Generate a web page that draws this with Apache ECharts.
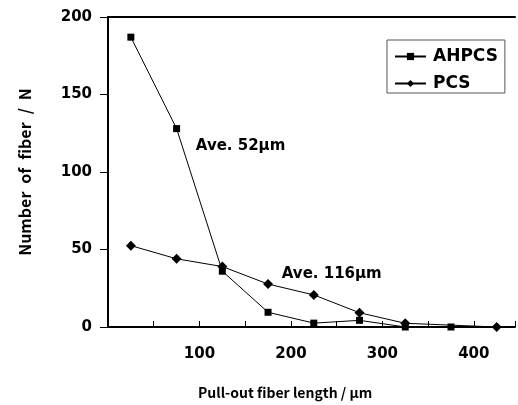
<!DOCTYPE html>
<html>
<head>
<meta charset="utf-8">
<script src="https://cdn.jsdelivr.net/npm/echarts@6/dist/echarts.min.js"></script>
<style>
html, body { margin: 0; padding: 0; background: #fff; }
#chart { width: 518px; height: 405px; }
</style>
</head>
<body>
<div id="chart"></div>
<script>
// Pull-out fiber length bins (µm, bin centres) and fiber counts
const lengthsAHPCS = [25, 75, 125, 175, 225, 275, 325, 375];
const countsAHPCS = [187, 128, 36, 9.5, 2.5, 4.3, 0, 0];
const lengthsPCS = [25, 75, 125, 175, 225, 275, 325, 425];
const countsPCS = [52.5, 44, 39, 27.7, 20.7, 9.2, 2.4, 0];

const seriesNames = ['AHPCS', 'PCS'];
const yTicks = [0, 50, 100, 150, 200];
const xLabelTicks = [100, 200, 300, 400];
const xRange = [0, 445];

// Average pull-out length notes, placed in data space
const notes = [
  { text: 'Ave. 52\u03bcm', at: [96, 117] },
  { text: 'Ave. 116\u03bcm', at: [190, 34] }
];

const FONT = '"Noto Sans CJK JP", "Liberation Sans", sans-serif';
const NUMFONT = '"DejaVu Sans", sans-serif';

const chart = echarts.init(document.getElementById('chart'), null, { renderer: 'canvas' });

function pairs(xs, ys) { return xs.map((x, i) => [x, ys[i]]); }

const option = {
  animation: false,
  backgroundColor: '#fff',
  grid: { left: 108, top: 17, bottom: 78, right: 0, show: false },
  legend: {
    orient: 'vertical',
    left: 387, top: 40,
    padding: [8, 7, 1, 7],
    itemGap: 10,
    itemWidth: 31, itemHeight: 9,
    borderColor: '#555', borderWidth: 1, backgroundColor: '#fff',
    textStyle: { fontFamily: NUMFONT, fontWeight: 'bold', fontSize: 17, lineHeight: 16, color: '#000', padding: [0, 0, 0, 2] },
    data: seriesNames
  },
  xAxis: [
    {
      type: 'value', min: xRange[0], max: xRange[1], interval: 50,
      axisLine: { show: true, onZero: false, lineStyle: { color: '#000', width: 2 } },
      axisTick: { show: true, inside: true, length: 6, lineStyle: { color: '#000', width: 1 } },
      axisLabel: {
        margin: 20, fontFamily: NUMFONT, fontWeight: 'bold', fontSize: 15, color: '#000',
        formatter: v => (xLabelTicks.indexOf(v) >= 0 ? String(v) : '')
      },
      splitLine: { show: false }
    },
    {
      // plot frame, top edge
      type: 'value', position: 'top', min: xRange[0], max: xRange[1],
      axisLine: { show: true, onZero: false, lineStyle: { color: '#000', width: 2 } },
      axisTick: { show: false }, axisLabel: { show: false }, splitLine: { show: false }
    }
  ],
  yAxis: {
    type: 'value', min: yTicks[0], max: yTicks[yTicks.length - 1], interval: 50,
    axisLine: { show: true, lineStyle: { color: '#000', width: 2 } },
    axisTick: { show: true, inside: false, length: 8, lineStyle: { color: '#000', width: 1 } },
    axisLabel: { margin: 16, padding: [5, 0, 0, 0], fontFamily: NUMFONT, fontWeight: 'bold', fontSize: 15, color: '#000' },
    splitLine: { show: false },
    name: 'Number\u2002of\u2002fiber\u2002/\u2002N',
    nameLocation: 'middle',
    nameGap: 75,
    nameTextStyle: { fontFamily: FONT, fontWeight: 'bold', fontSize: 16, color: '#000' }
  },
  graphic: [
    {
      type: 'text', left: 198, top: 386,
      style: { text: 'Pull-out fiber length / \u03bcm', fontFamily: FONT, fontWeight: 'bold', fontSize: 14, fill: '#000' }
    }
  ],
  series: [
    {
      name: seriesNames[0], type: 'line',
      data: pairs(lengthsAHPCS, countsAHPCS),
      symbol: 'rect', symbolSize: 7,
      lineStyle: { color: '#000', width: 1 },
      itemStyle: { color: '#000' },
      z: 3,
      markPoint: {
        symbol: 'rect', symbolSize: 0, silent: true,
        label: { show: true, position: 'right', distance: 0, formatter: p => p.name,
          fontFamily: NUMFONT, fontWeight: 'bold', fontSize: 15, color: '#000' },
        data: notes.map(n => ({ name: n.text, coord: n.at }))
      }
    },
    {
      name: seriesNames[1], type: 'line',
      data: pairs(lengthsPCS, countsPCS),
      symbol: 'diamond', symbolSize: [10, 10],
      lineStyle: { color: '#000', width: 1 },
      itemStyle: { color: '#000' },
      z: 2
    }
  ]
};

chart.setOption(option);
</script>
</body>
</html>
